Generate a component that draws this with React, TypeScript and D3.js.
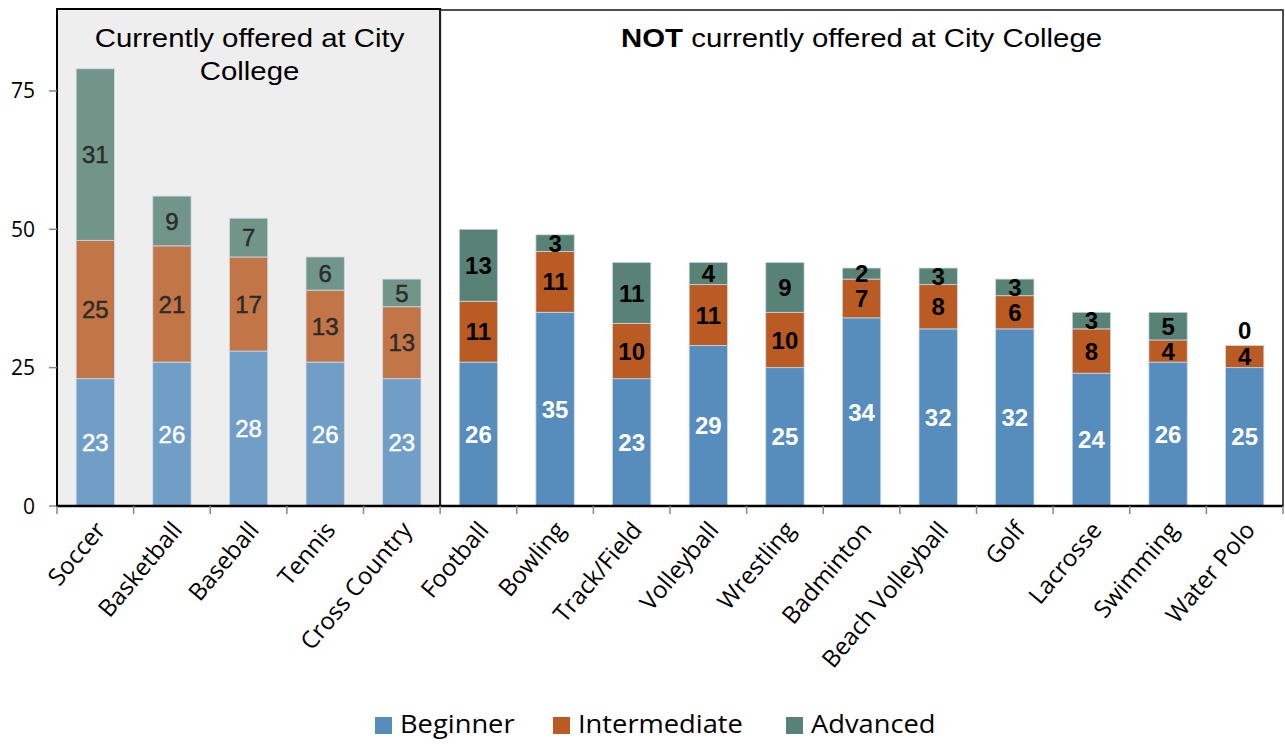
import React from "react";
import * as d3 from "d3";

const categories = [
  "Soccer", "Basketball", "Baseball", "Tennis", "Cross Country",
  "Football", "Bowling", "Track/Field", "Volleyball", "Wrestling",
  "Badminton", "Beach Volleyball", "Golf", "Lacrosse", "Swimming", "Water Polo",
];
const beginner = [23, 26, 28, 26, 23, 26, 35, 23, 29, 25, 34, 32, 32, 24, 26, 25];
const intermediate = [25, 21, 17, 13, 13, 11, 11, 10, 11, 10, 7, 8, 6, 8, 4, 4];
const advanced = [31, 9, 7, 6, 5, 13, 3, 11, 4, 9, 2, 3, 3, 3, 5, 0];
const levels = ["Beginner", "Intermediate", "Advanced"];
const colors = ["#568dbd", "#b95b22", "#578275"];
const yTicks = [0, 25, 50, 75];
const offeredCount = 5;

const W = 1285;
const H = 745;
const margin = { top: 9, right: 2, bottom: 239, left: 57 };

export default function App() {
  const x = d3
    .scaleBand()
    .domain(categories)
    .range([margin.left, W - margin.right])
    .paddingInner(0.5)
    .paddingOuter(0.25);
  const y = d3
    .scaleLinear()
    .domain([0, 89.8])
    .range([H - margin.bottom, margin.top]);

  const rows = categories.map((c, i) => ({
    cat: c,
    Beginner: beginner[i],
    Intermediate: intermediate[i],
    Advanced: advanced[i],
  }));
  const stacked = d3.stack().keys(levels)(rows as any);

  const step = x.step();
  const splitX = margin.left + step * offeredCount;
  const baseY = y(0);
  const sans = "'Liberation Sans', Arial, sans-serif";
  const open = "'Open Sans', sans-serif";

  const bars = stacked.map((layer, li) => (
    <g key={levels[li]}>
      {layer.map((d, i) => {
        const cat = categories[i];
        const top = y(d[1]);
        const bot = y(d[0]);
        return (
          <rect
            key={cat}
            x={x(cat)}
            y={top}
            width={x.bandwidth()}
            height={Math.max(0, bot - top)}
            fill={colors[li]}
            stroke="#c9d8e4"
            strokeWidth={0.8}
          />
        );
      })}
    </g>
  ));

  const labels = stacked.map((layer, li) => (
    <g key={"l" + levels[li]}>
      {layer.map((d, i) => {
        const cat = categories[i];
        const v = d[1] - d[0];
        const left = i < offeredCount;
        let cy = (y(d[0]) + y(d[1])) / 2;
        if (v === 0) cy -= 15;
        const col = li === 0 ? "#ffffff" : "#000000";
        return (
          <text
            key={cat}
            x={(x(cat) as number) + x.bandwidth() / 2}
            y={cy}
            dy="0.36em"
            textAnchor="middle"
            fontFamily={sans}
            fontSize={24}
            fontWeight={left ? "normal" : "bold"}
            fill={col}
            stroke={left ? col : "none"}
            strokeWidth={left ? 0.5 : 0}
          >
            {v}
          </text>
        );
      })}
    </g>
  ));

  const boundaries = d3.range(categories.length + 1).map((k) => margin.left + k * step);
  const leftMid = (margin.left + splitX) / 2 + 1;
  const rightMid = (splitX + W - margin.right) / 2;
  const hs = 1.13; // headers are drawn a bit wider than the font

  return (
    <svg
      width={W}
      height={H}
      style={{ position: "absolute", left: 0, top: 0, background: "#fff" }}
    >
      {/* shaded panel for sports already offered */}
      <rect x={margin.left} y={margin.top} width={splitX - margin.left} height={baseY - margin.top} fill="#eeeeee" />

      {bars}
      {labels}

      {/* fade over the offered panel */}
      <rect x={margin.left} y={margin.top} width={splitX - margin.left} height={baseY - margin.top} fill="#eeeeee" opacity={0.18} />

      <rect x={margin.left} y={margin.top} width={splitX - margin.left} height={baseY - margin.top} fill="none" stroke="#000" strokeWidth={2} />
      <rect x={splitX} y={margin.top + 1} width={W - margin.right - splitX} height={baseY - margin.top - 1} fill="none" stroke="#222" strokeWidth={1.6} />

      {/* panel headers */}
      <g fontFamily={sans} fontSize={26} fill="#000" textAnchor="middle">
        <text transform={`translate(${leftMid},47) scale(${hs},1)`}>Currently offered at City</text>
        <text transform={`translate(${leftMid},80) scale(${hs},1)`}>College</text>
        <text transform={`translate(${rightMid},47) scale(${hs},1)`}>
          <tspan fontWeight="bold">NOT</tspan> currently offered at City College
        </text>
      </g>

      {/* y axis */}
      <g>
        {yTicks.map((t) => (
          <g key={t} transform={`translate(0,${y(t)})`}>
            <line x1={margin.left - 8} x2={margin.left} stroke="#888" strokeWidth={1.5} />
            <text x={margin.left - 22} dy="0.36em" textAnchor="end" fontFamily={open} fontSize={21} fill="#000">
              {t}
            </text>
          </g>
        ))}
      </g>

      {/* x axis */}
      <line x1={margin.left - 1} x2={W - margin.right} y1={baseY} y2={baseY} stroke="#000" strokeWidth={2.5} />
      {boundaries.map((bx, k) => (
        <line key={k} x1={bx} x2={bx} y1={baseY} y2={baseY + 8} stroke="#888" strokeWidth={1.5} />
      ))}
      {categories.map((c) => {
        const cx = (x(c) as number) + x.bandwidth() / 2 + 6;
        return (
          <text
            key={c}
            transform={`translate(${cx},${baseY + 20}) rotate(-50)`}
            textAnchor="end"
            dy="0.3em"
            fontFamily={open}
            fontSize={24}
            fill="#000"
          >
            {c}
          </text>
        );
      })}

      {/* legend */}
      <g fontFamily={open} fontSize={26}>
        {levels.map((lv, i) => {
          const lx = [375, 553, 786][i];
          return (
            <g key={lv} transform={`translate(${lx},724)`}>
              <rect x={0} y={-7} width={17} height={17} fill={colors[i]} />
              <text transform="translate(25,0) scale(1.05,1)" dy="0.36em" fill="#000">
                {lv}
              </text>
            </g>
          );
        })}
      </g>
    </svg>
  );
}
